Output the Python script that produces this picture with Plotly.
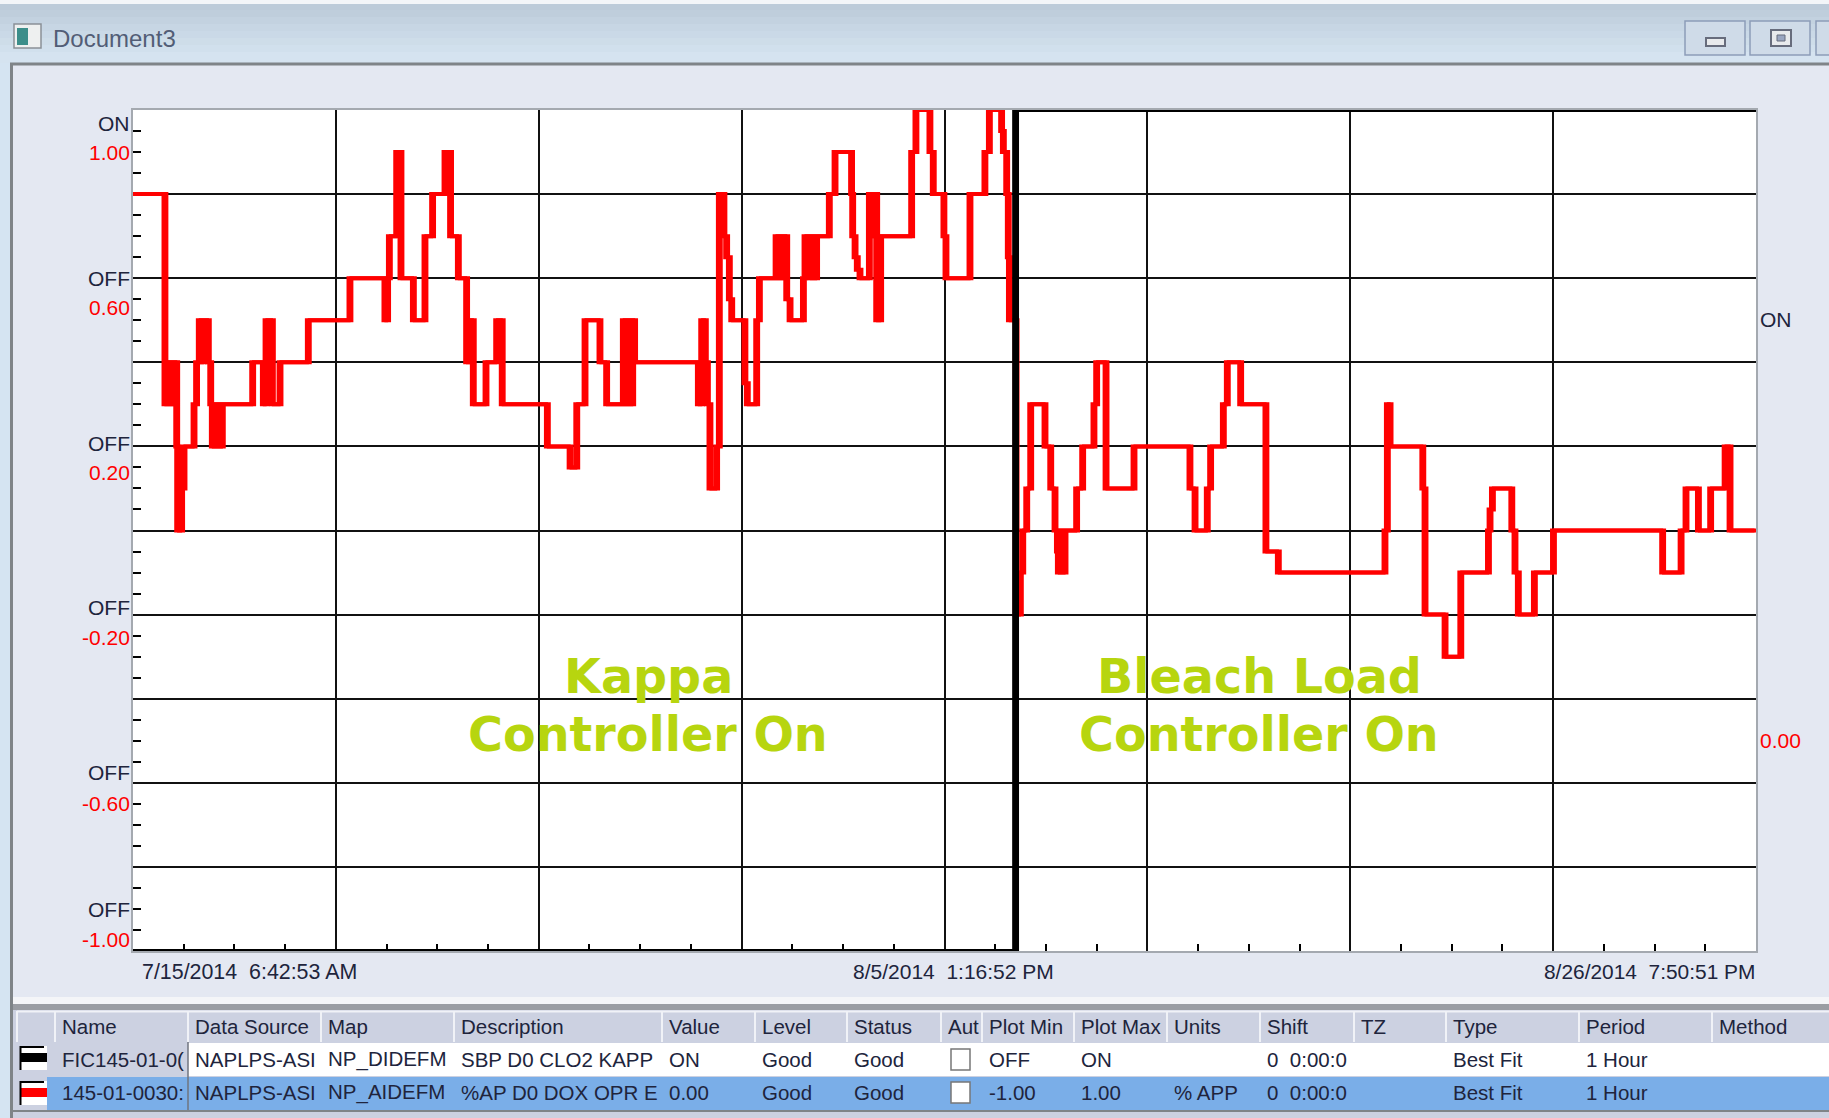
import pandas as pd
import plotly.graph_objects as go

# ---------------- data ----------------
TITLE = "Document3"
START = "2014-07-15 06:42:53"
END = "2014-08-26 19:50:51"
X_LABELS = ["7/15/2014  6:42:53 AM", "8/5/2014  1:16:52 PM", "8/26/2014  7:50:51 PM"]

# Red series: hours since START at which the value changes, and the new value
RED_HOURS = [0, 20.1, 21.8, 23.7, 25.0, 27.5, 28.1, 30.6, 32.1, 38.4, 40.0, 41.7, 43.2, 44.2, 47.4, 48.9,
             49.9, 51.0, 52.0, 53.3, 54.7, 56.2, 75.3, 82.0, 83.7, 87.7, 92.5, 110.3, 136.5, 158.5, 160.2,
             161.3, 165.9, 168.6, 176.4, 183.7, 188.5, 196.3, 199.8, 204.7, 209.9, 212.0, 214.1, 222.1,
             228.8, 232.3, 260.7, 275.0, 279.2, 284.4, 293.8, 298.0, 308.5, 310.2, 311.7, 313.1, 314.4,
             315.6, 355.7, 357.8, 360.1, 361.4, 363.0, 367.2, 368.9, 371.8, 373.5, 375.2, 376.7, 385.0,
             386.5, 392.4, 394.1, 404.6, 407.1, 408.8, 411.3, 413.4, 421.8, 422.8, 426.0, 427.6, 429.3,
             430.1, 438.1, 441.7, 452.1, 452.8, 454.3, 455.7, 457.4, 463.3, 464.7, 466.2, 467.9, 470.4,
             489.9, 492.6, 501.4, 503.5, 510.2, 511.5, 526.6, 536.0, 538.8, 546.5, 547.6, 549.7, 550.7,
             551.4, 555.6, 558.3, 559.8, 562.3, 564.8, 573.8, 577.4, 580.1, 581.6, 582.2, 583.9, 584.9,
             586.4, 593.7, 597.5, 604.6, 606.3, 612.2, 629.8, 665.0, 668.2, 675.9, 678.0, 686.0, 688.5,
             696.9, 712.8, 720.6, 787.7, 789.2, 790.9, 811.5, 812.9, 825.5, 835.4, 852.8, 853.8, 855.3,
             867.5, 869.5, 871.6, 881.7, 893.7, 962.4, 974.0, 977.1, 984.9, 992.6, 1001.7, 1004.8, 1021.13]
RED_VALUES = [.8, .3, .4, .3, .4, .2, 0, .1, .2, .3, .4, .5, .4, .5, .4, .3,
              .2, .3, .2, .3, .2, .3, .4, .3, .5, .3, .4, .5, .6, .5, .6,
              .7, .9, .6, .5, .7, .8, .9, .7, .6, .4, .5, .3, .4,
              .5, .3, .2, .15, .3, .5, .4, .3, .5, .3, .5, .3, .5,
              .4, .3, .5, .4, .3, .1, .2, .8, .7, .65, .55, .5, .35,
              .3, .5, .6, .7, .6, .7, .55, .5, .6, .7, .6, .7, .6,
              .7, .8, .9, .8, .7, .65, .62, .6, .8, .7, .8, .5, .7,
              .9, 1.0, .9, .8, .7, .6, .8, .9, 1.0, .95, .9, .8, .65,
              .5, -.2, -.1, 0, .1, .3, .2, .1, 0, -.05, -.1, 0, -.1,
              0, .1, .2, .3, .4, .1, .2, .1, 0, .1, .2, .3, .4,
              .3, -.05, -.1, 0, .3, .2, .1, -.2, -.3, -.1, 0, .05, .1,
              0, -.1, -.2, -.1, 0, -.1, 0, .1, 0, .1, .2, 0, 0]

# Black on/off series (OFF at the bottom of the axis, ON at the top)
BLACK_HOURS = [0, 555.3, 1021.13]
BLACK_VALUES = [-1, 1, 1]

OFF_ON_LABELS = ["ON", "OFF", "OFF", "OFF", "OFF", "OFF"]
RED_LABELS = ["1.00", "0.60", "0.20", "-0.20", "-0.60", "-1.00"]
OVERLAYS = [["Kappa", "Controller On"], ["Bleach Load", "Controller On"]]

COLUMNS = ["Name", "Data Source", "Map", "Description", "Value", "Level", "Status", "Aut",
           "Plot Min", "Plot Max", "Units", "Shift", "TZ", "Type", "Period", "Method"]
ROW_1 = ["FIC145-01-0(", "NAPLPS-ASI", "NP_DIDEFM", "SBP D0 CLO2 KAPP", "ON", "Good", "Good", "",
         "OFF", "ON", "", "0  0:00:0", "", "Best Fit", "1 Hour", ""]
ROW_2 = ["145-01-0030:", "NAPLPS-ASI", "NP_AIDEFM", "%AP D0 DOX OPR E", "0.00", "Good", "Good", "",
         "-1.00", "1.00", "% APP", "0  0:00:0", "", "Best Fit", "1 Hour", ""]

# ---------------- layout constants ----------------
FIG_W, FIG_H = 1829, 1118
L, T, PW, PH = 133, 110, 1623, 841
FONT = "Liberation Sans"
RED = "#ff0000"
INK = "#20243c"
LIME = "#b7d50f"
PANEL = "#e4e8f2"
HEAD = "#ccd1e1"

OFF_ON_Y = [123.5, 278.5, 443.5, 607.5, 772.5, 909.5]
RED_LABEL_Y = [153, 307.5, 472, 637, 803, 939]
COL_X = [55, 188, 321, 454, 662, 755, 847, 941, 982, 1074, 1167, 1260, 1354, 1446, 1579, 1712]
TEXT_PAD = 7
TITLE_BANDS = [(4, 10, "#bccbd9"), (10, 17, "#bfcedc"), (17, 24, "#c3d2e0"), (24, 31, "#c7d6e4"),
               (31, 38, "#cad9e7"), (38, 45, "#cedde9"), (45, 52, "#d1e0ed"), (52, 63, "#d5e3f0")]


def px(x):
    return (x - L) / PW


def py(y):
    return 1 - (y - T) / PH


def rect(x0, y0, x1, y1, fill, line=None, lw=0):
    return dict(type="rect", xref="paper", yref="paper", layer="below",
                x0=px(x0), x1=px(x1), y0=py(y0), y1=py(y1), fillcolor=fill,
                line=dict(color=line or fill, width=lw))


def hline(x0, x1, y, color, w=1):
    return dict(type="line", xref="paper", yref="paper", layer="below",
                x0=px(x0), x1=px(x1), y0=py(y), y1=py(y), line=dict(color=color, width=w))


def vline(x, y0, y1, color, w=1):
    return dict(type="line", xref="paper", yref="paper", layer="below",
                x0=px(x), x1=px(x), y0=py(y0), y1=py(y1), line=dict(color=color, width=w))


def note(x, y, text, color=INK, size=21, anchor="left", bold=False, family=FONT):
    return dict(xref="paper", yref="paper", x=px(x), y=py(y), text=f"<b>{text}</b>" if bold else text,
                showarrow=False, xanchor=anchor, yanchor="middle", borderpad=0, borderwidth=0,
                font=dict(family=family, size=size, color=color))


def to_dates(hours):
    stamps = pd.Timestamp(START) + pd.to_timedelta(hours, unit="h")
    return [s.strftime("%Y-%m-%d %H:%M:%S") for s in stamps]


def offset(hours, d):
    return [h + d for h in hours]


# ---------------- traces ----------------
# the screenshot is stretched sideways, so vertical strokes are wider than horizontal ones
STROKE = 0.9
fig = go.Figure()
for d in (-STROKE, STROKE):
    fig.add_trace(go.Scatter(x=to_dates(offset(RED_HOURS, d)), y=RED_VALUES, mode="lines",
                             line=dict(color=RED, width=4, shape="hv"), showlegend=False, hoverinfo="skip"))
for d in (-STROKE, STROKE):
    fig.add_trace(go.Scatter(x=to_dates(offset(BLACK_HOURS, d)), y=BLACK_VALUES, mode="lines",
                             line=dict(color="#000000", width=4, shape="hv"), showlegend=False,
                             hoverinfo="skip", cliponaxis=False))

# ---------------- window chrome ----------------
shapes = [rect(0, 0, 1829, 4, "#f2f5f8")]
shapes += [rect(0, a, 1829, b, c) for a, b, c in TITLE_BANDS]
shapes += [
    rect(0, 63, 11, 1118, "#d5e4f2"),
    hline(10, 1829, 64, "#7f8488", 3),
    vline(11.5, 63, 1118, "#7f8488", 3),
    rect(13, 997, 1829, 1004, "#f4f5f8"),
    rect(13, 1004, 1829, 1010, "#9a9da3"),
    # title icon
    rect(14, 24, 41, 48, "#eef0f0", "#8a9096", 1.5),
    rect(17, 28, 28, 45, "#3c8e8a"),
    # window buttons
    rect(1685, 21, 1745, 55, "#cfdbe8", "#8d9db8", 1.5),
    rect(1750, 21, 1810, 55, "#cfdbe8", "#8d9db8", 1.5),
    rect(1816, 21, 1840, 55, "#cfdbe8", "#8d9db8", 1.5),
    rect(1706, 38, 1725, 46, "#e8eaec", "#676c7c", 2),
    rect(1771, 30, 1791, 46, "#e8eaec", "#676c7c", 2),
    rect(1777, 35, 1785, 41, "#9aa6c0", "#676c7c", 1),
    # table
    rect(13, 1010, 1829, 1118, HEAD),
    rect(17, 1043, 1829, 1076, "#ffffff"),
    rect(17, 1043, 188, 1076, HEAD),
    rect(17, 1077, 1829, 1110, "#7aaee8"),
    rect(17, 1077, 47, 1110, HEAD),
    hline(13, 1829, 1111, "#7f8488", 2),
    vline(188, 1011, 1110, "#70757f", 1.5),
    hline(17, 1829, 1011.5, "#f0f2f7", 2),
]
for x in [17] + COL_X:
    shapes.append(vline(x, 1011, 1042, "#f0f2f7", 2))
for top, colour in ((1046, "#000000"), (1081, RED)):
    shapes.append(rect(20, top, 47, top + 24, "#ffffff"))
    shapes.append(rect(21, top + 7, 47, top + 16, colour))
    shapes.append(vline(20.5, top, top + 24, "#000000", 2))
    shapes.append(hline(20, 44, top + 1, "#000000", 2))
for top in (1049, 1082):
    shapes.append(rect(951, top, 970, top + 21, "#ffffff", "#777777", 1.5))

# ---------------- text ----------------
notes = [note(53, 38.5, TITLE, "#525d76", 24)]
for y, t in zip(OFF_ON_Y, OFF_ON_LABELS):
    notes.append(note(129.5, y, t, INK, 21, "right"))
for y, t in zip(RED_LABEL_Y, RED_LABELS):
    notes.append(note(129.5, y, t, RED, 21, "right"))
notes.append(note(1760, 319.5, "ON", INK, 21))
notes.append(note(1760, 740.5, "0.00", RED, 21))
notes.append(note(142, 971.5, X_LABELS[0], INK, 21.4))
notes.append(note(853, 971.5, X_LABELS[1], INK, 21))
notes.append(note(1755, 971.5, X_LABELS[2], INK, 20.9, "right"))
for cx, lines in zip((648, 1259), OVERLAYS):
    for y, t in zip((676.5, 734.5), lines):
        notes.append(note(cx, y, t, LIME, 47.6, "center", True, "DejaVu Sans"))
for x, head, a, b in zip(COL_X, COLUMNS, ROW_1, ROW_2):
    xt = x + TEXT_PAD
    notes.append(note(xt, 1026, head, INK, 20.5))
    if a:
        notes.append(note(xt, 1059, a, INK, 20.5))
    if b:
        notes.append(note(xt, 1092, b, INK, 20.5))

division_ms = (pd.Timestamp(END) - pd.Timestamp(START)).total_seconds() * 1000 / 8

fig.update_layout(
    width=FIG_W, height=FIG_H, autosize=False,
    margin=dict(l=L, r=FIG_W - L - PW, t=T, b=FIG_H - T - PH, pad=0),
    paper_bgcolor=PANEL, plot_bgcolor="#ffffff", showlegend=False,
    shapes=shapes, annotations=notes,
    xaxis=dict(type="date", range=[START, END], tick0=START, dtick=division_ms, showticklabels=False,
               showgrid=True, gridcolor="#111111", gridwidth=1.5, zeroline=False,
               showline=True, linecolor="#a4a9b0", linewidth=2, mirror=True, layer="below traces",
               ticks="", minor=dict(dtick=division_ms / 4, tick0=START, ticks="inside", ticklen=7,
                                    tickwidth=1.5, tickcolor="#000000", showgrid=False)),
    yaxis=dict(range=[-1, 1], tick0=-1, dtick=0.2, showticklabels=False,
               showgrid=True, gridcolor="#111111", gridwidth=1.5, zeroline=False,
               showline=True, linecolor="#a4a9b0", linewidth=2, mirror=True, layer="below traces",
               ticks="", minor=dict(dtick=0.05, tick0=-1, ticks="inside", ticklen=8,
                                    tickwidth=1.5, tickcolor="#000000", showgrid=False)),
)

fig.write_html("out.html", config={"displayModeBar": False},
               post_script="document.body.style.margin='0';document.body.style.overflow='hidden';")
